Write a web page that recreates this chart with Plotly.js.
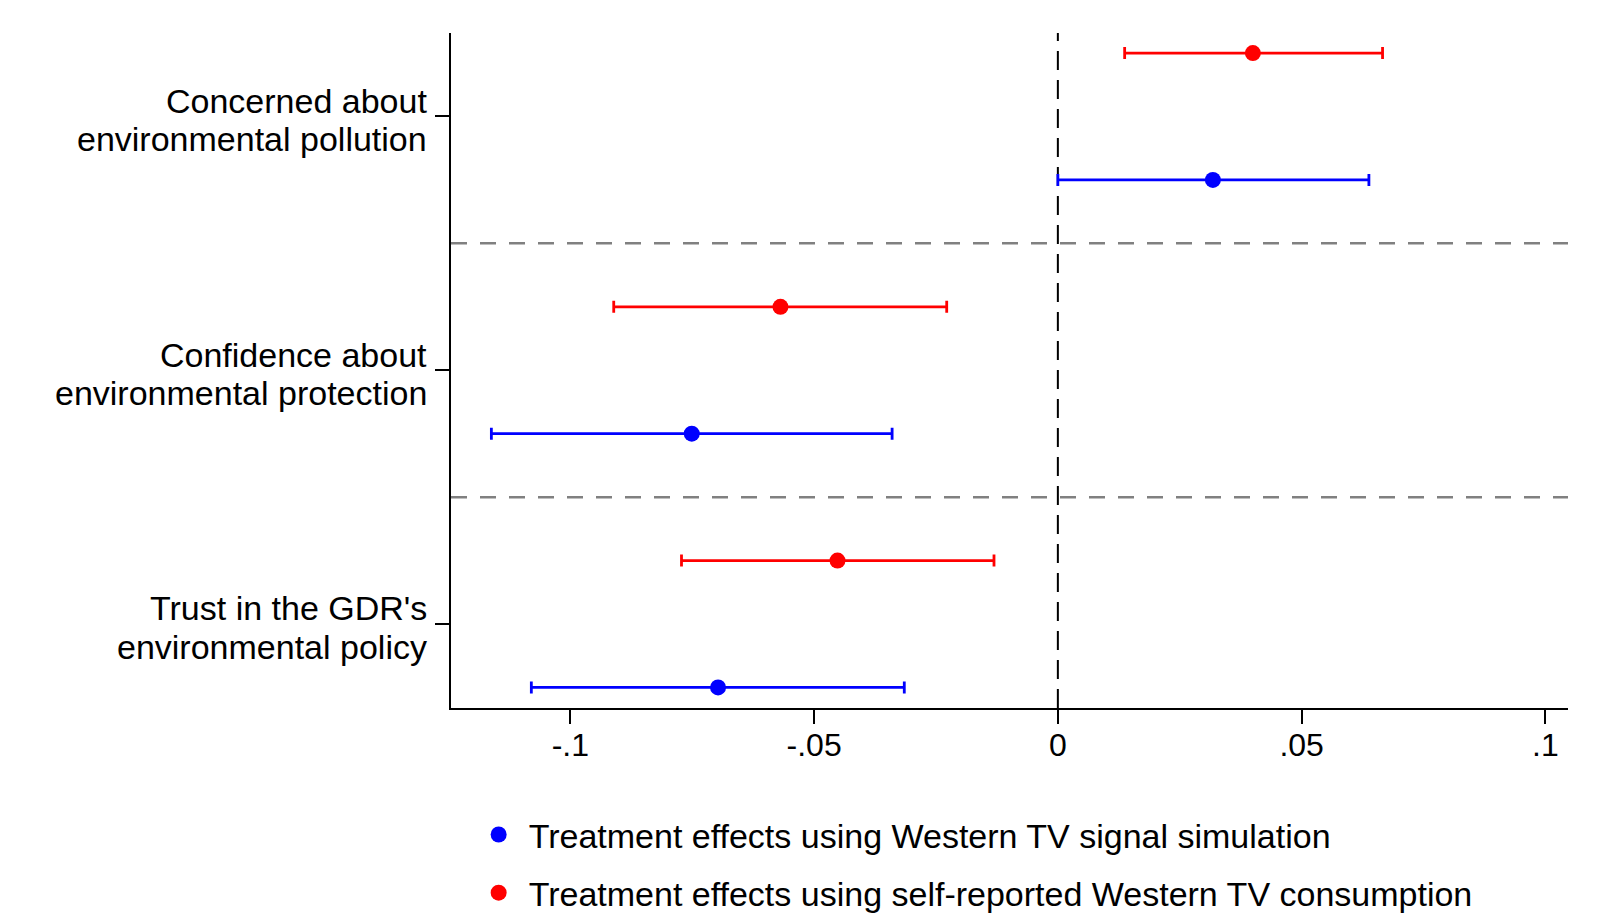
<!DOCTYPE html>
<html>
<head>
<meta charset="utf-8">
<script src="https://cdn.plot.ly/plotly-3.0.1.min.js"></script>
<style>
  html, body { margin: 0; padding: 0; background: #ffffff; }
  #chart { width: 1597px; height: 921px; }
</style>
</head>
<body>
<div id="chart"></div>
<script>
// ---- Data ----
const categories = [
  ["Concerned about", "environmental pollution"],
  ["Confidence about", "environmental protection"],
  ["Trust in the GDR's", "environmental policy"]
];
// Treatment effects using Western TV signal simulation (blue)
const simPoint = [0.0318, -0.0751, -0.0697];
const simLow   = [0.0000, -0.1162, -0.1080];
const simHigh  = [0.0638, -0.0340, -0.0315];
// Treatment effects using self-reported Western TV consumption (red)
const selfPoint = [0.0400, -0.0569, -0.0452];
const selfLow   = [0.0137, -0.0911, -0.0772];
const selfHigh  = [0.0666, -0.0228, -0.0131];

const xTickVals  = [-0.1, -0.05, 0, 0.05, 0.1];
const xTickText  = ["-.1", "-.05", "0", ".05", ".1"];
const legendNames = [
  "Treatment effects using Western TV signal simulation",
  "Treatment effects using self-reported Western TV consumption"
];

// ---- Layout helpers: each category occupies two rows ----
const n = categories.length;
const selfY = categories.map((c, i) => 2 * (n - i));       // 6, 4, 2
const simY  = categories.map((c, i) => 2 * (n - i) - 1);   // 5, 3, 1
const catY  = categories.map((c, i) => 2 * (n - i) - 0.5); // 5.5, 3.5, 1.5
const sepY  = catY.slice(0, -1).map((v, i) => (v + catY[i + 1]) / 2); // 4.5, 2.5

const FONT = "Liberation Sans, Arial, Helvetica, sans-serif";

function trace(name, xs, lo, hi, ys, color, group) {
  return {
    type: "scatter",
    mode: "markers",
    name: name,
    legendgroup: group,
    x: xs,
    y: ys,
    marker: { color: color, size: 16, line: { width: 0 } },
    error_x: {
      type: "data",
      symmetric: false,
      array: hi.map((h, i) => h - xs[i]),
      arrayminus: lo.map((l, i) => xs[i] - l),
      color: color,
      thickness: 2.8,
      width: 6
    },
    hoverinfo: "x"
  };
}

const data = [
  trace(legendNames[0], simPoint, simLow, simHigh, simY, "#0000ff", "g1"),
  trace(legendNames[1], selfPoint, selfLow, selfHigh, selfY, "#ff0000", "g2")
];

const shapes = [];
sepY.forEach(v => shapes.push({
  type: "line", xref: "paper", yref: "y", x0: 0, x1: 1, y0: v, y1: v,
  line: { color: "#808080", width: 2.5, dash: "16px,13px" }, layer: "below"
}));
shapes.push({
  type: "line", xref: "x", yref: "paper", x0: 0, x1: 0, y0: 0, y1: 1,
  line: { color: "#000000", width: 2, dash: "19px,10px" }, layer: "below"
});

// Category labels (two lines each, tight line spacing as in the reference)
const annotations = [];
categories.forEach((lines, i) => {
  const shifts = [15.7, -23];
  lines.forEach((t, k) => annotations.push({
    xref: "paper", yref: "y", x: 0, y: catY[i],
    xanchor: "right", yanchor: "middle",
    xshift: -22, yshift: shifts[k],
    text: t, showarrow: false,
    font: { family: FONT, size: 34, color: "#000000" }
  }));
});

const layout = {
  width: 1597,
  height: 921,
  paper_bgcolor: "#ffffff",
  plot_bgcolor: "#ffffff",
  font: { family: FONT, size: 34, color: "#000000" },
  margin: { l: 451, r: 29, t: 33, b: 213, pad: 0, autoexpand: false },
  showlegend: true,
  legend: {
    orientation: "v",
    x: 0.0158, xanchor: "left",
    y: -0.145, yanchor: "top",
    font: { family: FONT, size: 34, color: "#000000" },
    tracegroupgap: 11,
    itemwidth: 50,
    bgcolor: "rgba(0,0,0,0)"
  },
  xaxis: {
    range: [-0.12448, 0.10464],
    tickvals: xTickVals,
    ticktext: xTickText,
    ticks: "outside",
    ticklen: 14,
    tickwidth: 2,
    tickcolor: "#000000",
    ticklabelstandoff: -6,
    showline: true,
    linecolor: "#000000",
    linewidth: 2,
    showgrid: false,
    zeroline: false,
    tickfont: { family: FONT, size: 32, color: "#000000" }
  },
  yaxis: {
    range: [0.838, 6.158],
    tickvals: catY,
    showticklabels: false,
    ticks: "outside",
    ticklen: 14,
    tickwidth: 2,
    tickcolor: "#000000",
    showline: true,
    linecolor: "#000000",
    linewidth: 2,
    showgrid: false,
    zeroline: false
  },
  shapes: shapes,
  annotations: annotations
};

Plotly.newPlot("chart", data, layout, { staticPlot: true, displayModeBar: false });
</script>
</body>
</html>
